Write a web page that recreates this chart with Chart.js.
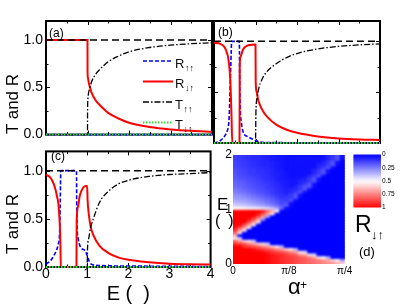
<!DOCTYPE html>
<html>
<head>
<meta charset="utf-8">
<script src="https://cdn.jsdelivr.net/npm/chart.js@4.4.1/dist/chart.umd.min.js"></script>
<style>
  html, body { margin: 0; padding: 0; background: #fff; }
  #wrap { position: relative; width: 415px; height: 305px; overflow: hidden; font-family: 'Liberation Sans', Arial, sans-serif; color: #000; }
  canvas { position: absolute; }
  .lbl { position: absolute; line-height: 1; white-space: nowrap; }
  .ylab { position: absolute; line-height: 1; white-space: nowrap; font-size: 17px; transform: translate(-50%, -50%) rotate(-90deg); }
</style>
</head>
<body>
<div id="wrap">
  <canvas id="ca" width="215" height="146" style="left:0;top:0"></canvas>
  <canvas id="cb" width="170" height="146" style="left:212px;top:0"></canvas>
  <canvas id="cc" width="215" height="165" style="left:0;top:140px"></canvas>
  <canvas id="cd" width="150" height="160" style="left:205px;top:145px"></canvas>
  <canvas id="cbar" width="70" height="66" style="left:345px;top:148px"></canvas>

  <div class="ylab" style="left:12px;top:104px">T and R</div>
  <div class="ylab" style="left:12px;top:224px">T and R</div>
  <div class="lbl" style="left:49px;top:26.8px;font-size:12px">(a)</div>
  <div class="lbl" style="left:218px;top:26.3px;font-size:12px">(b)</div>
  <div class="lbl" style="left:51px;top:149.8px;font-size:12px">(c)</div>
  <div class="lbl" style="left:359px;top:245px;font-size:13px">(d)</div>
  <div class="lbl" style="left:355px;top:213px;font-size:23px">R</div>
  <div class="lbl" style="left:371px;top:228px;font-size:13px">↓↑</div>
  <div class="lbl" style="left:217px;top:195.8px;font-size:17px">E</div>
  <div class="lbl" style="left:215px;top:213px;font-size:16px">(&ensp;)</div>
  <div class="lbl" style="left:288px;top:276.4px;font-size:22px">α</div>
  <div class="lbl" style="left:300px;top:278.5px;font-size:12px">+</div>
</div>

<script>
// ---- panel (a) ----
const aRedE = [0, 1, 1.001, 1.01, 1.03, 1.06, 1.1, 1.2, 1.3, 1.5, 1.75, 2, 2.5, 3, 3.5, 4];
const aRed  = [1, 1, 0.68, 0.6, 0.55, 0.5, 0.44, 0.36, 0.31, 0.23, 0.17, 0.125, 0.08, 0.055, 0.04, 0.03];
const aTE   = [0, 1, 1.001, 1.01, 1.03, 1.06, 1.1, 1.2, 1.3, 1.5, 1.75, 2, 2.5, 3, 3.5, 4];
const aT    = [0, 0, 0.2, 0.38, 0.45, 0.5, 0.56, 0.64, 0.69, 0.77, 0.83, 0.875, 0.92, 0.945, 0.96, 0.97];

// ---- panel (b) ----
const bRedE  = [0, 0.15, 0.25, 0.3, 0.345, 0.38, 0.4, 0.42, 0.44, 0.615, 0.62, 0.64, 0.7, 0.79, 0.9, 1, 1.005, 1.03, 1.06, 1.1, 1.2, 1.3, 1.5, 1.75, 2, 2.5, 3, 3.5, 4];
const bRed   = [0.985, 0.975, 0.945, 0.9, 0.83, 0.7, 0.55, 0.3, 0, 0, 0.75, 0.85, 0.92, 0.955, 0.965, 0.97, 0.6, 0.5, 0.43, 0.38, 0.3, 0.25, 0.18, 0.13, 0.1, 0.065, 0.045, 0.035, 0.03];
const bBlueE = [0, 0.14, 0.26, 0.32, 0.345, 0.365, 0.38, 0.4, 0.415, 0.425, 0.61, 0.62, 0.635, 0.66, 0.71, 0.8, 0.87, 1, 1.1, 1.3, 4];
const bBlue  = [0, 0.02, 0.07, 0.12, 0.16, 0.25, 0.42, 0.7, 0.9, 1, 1, 0.6, 0.32, 0.2, 0.1, 0.065, 0.05, 0.025, 0.01, 0.005, 0];
const bTE    = [0, 1, 1.01, 1.04, 1.08, 1.15, 1.25, 1.5, 1.75, 2, 2.5, 3, 3.5, 4];
const bT     = [0, 0, 0.3, 0.45, 0.54, 0.62, 0.69, 0.78, 0.84, 0.88, 0.925, 0.95, 0.965, 0.975];

// ---- panel (c) ----
const cRedE  = [0, 0.1, 0.16, 0.22, 0.27, 0.3, 0.33, 0.35, 0.36, 0.74, 0.745, 0.78, 0.82, 0.9, 0.97, 1, 1.01, 1.04, 1.08, 1.15, 1.3, 1.5, 1.75, 2, 2.5, 3, 3.5, 4];
const cRed   = [0.96, 0.93, 0.89, 0.82, 0.73, 0.66, 0.48, 0.25, 0, 0, 0.47, 0.63, 0.74, 0.82, 0.84, 0.84, 0.7, 0.55, 0.43, 0.33, 0.22, 0.15, 0.1, 0.075, 0.05, 0.035, 0.028, 0.025];
const cBlueE = [0, 0.1, 0.18, 0.25, 0.3, 0.33, 0.345, 0.36, 0.74, 0.75, 0.78, 0.85, 0.95, 1, 1.05, 1.1, 1.3, 2, 4];
const cBlue  = [0.03, 0.06, 0.11, 0.17, 0.24, 0.35, 0.65, 1, 1, 0.5, 0.3, 0.2, 0.17, 0.12, 0.06, 0.03, 0.015, 0.01, 0.005];
const cTE    = [0, 1, 1.01, 1.04, 1.08, 1.15, 1.3, 1.5, 1.75, 2, 2.5, 3, 3.5, 4];
const cT     = [0, 0, 0.2, 0.3, 0.4, 0.5, 0.67, 0.78, 0.86, 0.9, 0.94, 0.96, 0.97, 0.98];

// flat lines (zero curves and the R+T = 1 guide)
const flatE    = [0, 4];
const zeroVals = [0, 0];
const oneVals  = [1, 1];

// axes of (a)-(c)
const yTickVals  = [0, 0.5, 1];
const xTickVals  = [0, 1, 2, 3, 4];
const xMinorVals = [0.5, 1, 1.5, 2, 2.5, 3, 3.5];
const yMinorVals = [0.25, 0.5, 0.75, 1];

// ---- panel (d): R(alpha, E) map, 24 alpha columns (0..pi/4), rows listed top (E=2) to bottom (E=0) ----
const eEdges = [0, 0.05, 0.1, 0.15, 0.2, 0.25, 0.3, 0.35, 0.4, 0.45, 0.5, 0.55, 0.6, 0.65, 0.7, 0.75, 0.8, 0.85, 0.9, 0.95, 1,
                1.05, 1.1, 1.15, 1.2, 1.25, 1.3, 1.35, 1.4, 1.45, 1.5, 1.55, 1.6, 1.65, 1.7, 1.75, 1.8, 1.85, 1.9, 1.95, 2];
const rGrid = [
  [.12,.11,.10,.09,.08,.08,.07,.06,.05,.04, .04,.03,.03,.03,.03,.03,.03,.03,.03,.03, .07,.11,.16,.03],
  [.12,.11,.10,.09,.08,.08,.07,.06,.05,.04, .04,.03,.03,.03,.03,.03,.03,.03,.03,.03, .07,.11,.16,.03],
  [.13,.12,.11,.10,.09,.08,.07,.07,.06,.05, .04,.03,.03,.03,.03,.03,.03,.03,.03,.07, .11,.16,.03,0],
  [.13,.12,.11,.10,.09,.08,.07,.07,.06,.05, .04,.03,.03,.03,.03,.03,.03,.03,.07,.07, .11,.16,.03,0],
  [.14,.13,.12,.11,.10,.09,.08,.07,.06,.05, .04,.03,.03,.03,.03,.03,.03,.03,.07,.11, .16,.03,0,0],
  [.15,.14,.13,.11,.11,.09,.09,.08,.07,.05, .05,.03,.03,.03,.03,.03,.03,.07,.11,.16, .03,0,0,0],
  [.16,.14,.13,.12,.11,.10,.09,.08,.07,.06, .05,.04,.03,.03,.03,.03,.03,.07,.11,.16, .03,0,0,0],
  [.17,.15,.14,.13,.12,.11,.10,.09,.07,.06, .05,.04,.03,.03,.03,.03,.07,.11,.16,.03, 0,0,0,0],
  [.17,.16,.15,.14,.13,.11,.10,.09,.08,.06, .05,.04,.04,.04,.04,.07,.11,.16,.03,0, 0,0,0,0],
  [.19,.18,.17,.15,.14,.13,.11,.10,.09,.07, .06,.05,.04,.04,.07,.07,.11,.16,.03,0, 0,0,0,0],
  [.2,.19,.18,.16,.15,.13,.12,.11,.09,.08, .06,.05,.04,.04,.07,.11,.16,.03,0,0, 0,0,0,0],
  [.21,.2,.18,.17,.15,.14,.13,.11,.1,.08, .07,.05,.04,.07,.11,.16,.16,.03,0,0, 0,0,0,0],
  [.23,.22,.2,.18,.17,.15,.14,.12,.11,.09, .07,.06,.07,.07,.11,.16,.03,0,0,0, 0,0,0,0],
  [.25,.23,.22,.2,.18,.16,.15,.13,.11,.09, .08,.06,.07,.11,.16,.03,0,0,0,0, 0,0,0,0],
  [.28,.27,.25,.23,.21,.19,.17,.15,.13,.11, .09,.08,.11,.16,.03,0,0,0,0,0, 0,0,0,0],
  [.3,.29,.28,.26,.24,.22,.2,.18,.16,.13, .1,.11,.11,.16,.03,0,0,0,0,0, 0,0,0,0],
  [.33,.32,.31,.29,.27,.25,.23,.21,.18,.15, .13,.11,.16,.03,0,0,0,0,0,0, 0,0,0,0],
  [.37,.36,.35,.33,.31,.29,.27,.24,.21,.18, .13,.16,.03,0,0,0,0,0,0,0, 0,0,0,0],
  [.42,.41,.4,.38,.36,.34,.32,.29,.26,.22, .18,.16,.03,0,0,0,0,0,0,0, 0,0,0,0],
  [.5,.5,.49,.48,.47,.46,.44,.42,.38,.32, .2,.03,0,0,0,0,0,0,0,0, 0,0,0,0],
  [1,1,1,1,1,1,.95,.8,.68,.52, 0,0,0,0,0,0,0,0,0,0, 0,0,0,0],
  [1,1,1,1,1,.97,.85,.7,.55,0, 0,0,0,0,0,0,0,0,0,0, 0,0,0,0],
  [1,1,1,1,.97,.85,.7,.3,0,0, 0,0,0,0,0,0,0,0,0,0, 0,0,0,0],
  [1,1,1,.97,.85,.7,.3,0,0,0, 0,0,0,0,0,0,0,0,0,0, 0,0,0,0],
  [1,1,1,.85,.7,.55,0,0,0,0, 0,0,0,0,0,0,0,0,0,0, 0,0,0,0],
  [1,1,.85,.7,.55,0,0,0,0,0, 0,0,0,0,0,0,0,0,0,0, 0,0,0,0],
  [.97,.85,.7,.55,0,0,0,0,0,0, 0,0,0,0,0,0,0,0,0,0, 0,0,0,0],
  [.9,.7,.55,0,0,0,0,0,0,0, 0,0,0,0,0,0,0,0,0,0, 0,0,0,0],
  [.8,.55,0,0,0,0,0,0,0,0, 0,0,0,0,0,0,0,0,0,0, 0,0,0,0],
  [.65,0,0,0,0,0,0,0,0,0, 0,0,0,0,0,0,0,0,0,0, 0,0,0,0],
  [.55,.4,0,0,0,0,0,0,0,0, 0,0,0,0,0,0,0,0,0,0, 0,0,0,0],
  [.8,.7,.6,.55,.4,0,0,0,0,0, 0,0,0,0,0,0,0,0,0,0, 0,0,0,0],
  [.9,.88,.85,.75,.7,.6,.55,.4,0,0, 0,0,0,0,0,0,0,0,0,0, 0,0,0,0],
  [1,1,.9,.88,.85,.82,.75,.7,.6,.55, .35,0,0,0,0,0,0,0,0,0, 0,0,0,0],
  [1,1,1,1,.97,.92,.88,.85,.82,.75, .7,.6,.55,.35,0,0,0,0,0,0, 0,0,0,0],
  [1,1,1,1,1,1,.98,.95,.9,.87, .85,.82,.75,.7,.55,.45,0,0,0,0, 0,0,0,0],
  [1,1,1,1,1,1,1,.98,.96,.94, .92,.88,.85,.82,.72,.68,.55,.45,0,0, 0,0,0,0],
  [1,1,1,1,1,1,1,.98,.96,.94, .92,.9,.88,.86,.84,.82,.78,.7,.55,.5, .35,0,0,0],
  [1,1,1,1,1,1,1,.98,.96,.94, .92,.9,.88,.86,.84,.82,.8,.78,.76,.72, .68,.58,.5,.3],
  [1,1,1,1,1,1,1,.98,.96,.94, .92,.9,.88,.86,.84,.82,.8,.78,.76,.74, .72,.7,.66,.6]
];
const eTicks      = [0, 1, 2];
const alphaTicks  = [0, Math.PI / 8, Math.PI / 4];
const alphaLabels = ['0', 'π/8', 'π/4'];
const cbLevels = [0, 0.05, 0.1, 0.15, 0.2, 0.25, 0.3, 0.35, 0.4, 0.45, 0.5, 0.55, 0.6, 0.65, 0.7, 0.75, 0.8, 0.85, 0.9, 0.95, 1];
const cbTicks  = [0, 0.25, 0.5, 0.75, 1];
const cbLabels = ['0', '0.25', '0.5', '0.75', '1'];

Chart.defaults.font.family = "'Liberation Sans', Arial, sans-serif";
Chart.defaults.color = '#000';

// blue (0) -> white (0.5) -> red (1)
function cmap(r) {
  if (r <= 0.5) {
    const c = Math.round(255 * r / 0.5);
    return `rgb(${c},${c},255)`;
  }
  const c = Math.round(255 * (1 - (r - 0.5) / 0.5));
  return `rgb(255,${c},${c})`;
}

const pts = (xs, ys) => xs.map((x, i) => ({ x: x, y: ys[i] }));

const styles = {
  one: { borderColor: '#000', borderWidth: 1.5, borderDash: [7, 4] },
  tDU: { borderColor: '#33dd33', borderWidth: 2, borderDash: [1.5, 1.5] },
  tUU: { borderColor: '#000', borderWidth: 1.3, borderDash: [6, 2, 1.5, 2] },
  rDU: { borderColor: '#ff0000', borderWidth: 2 },
  rUU: { borderColor: '#0000ff', borderWidth: 1.6, borderDash: [4, 2] }
};

function line(xs, ys, st) {
  return Object.assign({
    data: pts(xs, ys), pointRadius: 0, fill: false, clip: 3,
    cubicInterpolationMode: 'monotone'
  }, st);
}

// box with inward ticks on all four sides
const framePlugin = {
  id: 'frame',
  beforeDatasetsDraw(chart) {
    const { ctx, chartArea: a, scales: { x, y } } = chart;
    ctx.save();
    ctx.strokeStyle = '#000';
    ctx.lineWidth = 1;
    ctx.beginPath();
    xMinorVals.forEach(v => {
      const px = Math.round(x.getPixelForValue(v)) + 0.5;
      const len = Number.isInteger(v) ? 4 : 2.5;
      ctx.moveTo(px, a.bottom); ctx.lineTo(px, a.bottom - len);
      ctx.moveTo(px, a.top); ctx.lineTo(px, a.top + len);
    });
    yMinorVals.forEach(v => {
      const py = Math.round(y.getPixelForValue(v)) + 0.5;
      const len = (v * 2) % 1 === 0 ? 4 : 2.5;
      ctx.moveTo(a.left, py); ctx.lineTo(a.left + len, py);
      ctx.moveTo(a.right, py); ctx.lineTo(a.right - len, py);
    });
    ctx.stroke();
    ctx.lineWidth = 2;
    ctx.strokeRect(a.left, a.top, a.right - a.left, a.bottom - a.top);
    ctx.restore();
  }
};

// legend drawn inside panel (a)
const legendPlugin = {
  id: 'inLegend',
  afterDatasetsDraw(chart, args, opts) {
    const { ctx, chartArea: a } = chart;
    opts.items.forEach((it, i) => {
      const ds = chart.data.datasets[it.ds];
      const y = a.top + opts.top + i * opts.gap;
      ctx.save();
      ctx.strokeStyle = ds.borderColor;
      ctx.lineWidth = ds.borderWidth;
      ctx.setLineDash(ds.borderDash || []);
      ctx.beginPath();
      ctx.moveTo(a.left + opts.x0, y);
      ctx.lineTo(a.left + opts.x1, y);
      ctx.stroke();
      ctx.setLineDash([]);
      ctx.fillStyle = '#111';
      ctx.font = "13px 'Liberation Sans', Arial, sans-serif";
      const tx = a.left + opts.x1 + 2;
      ctx.fillText(it.main, tx, y + 6.5);
      const w = ctx.measureText(it.main).width;
      ctx.font = "9px 'Liberation Sans', Arial, sans-serif";
      ctx.fillText(it.sub, tx + w + 0.5, y + 9.5);
      ctx.restore();
    });
  }
};

// soften the cell edges of the map: blurred copy over the sharp cells
const smoothPlugin = {
  id: 'smooth',
  afterDatasetsDraw(chart) {
    const { ctx, canvas, chartArea: a } = chart;
    ctx.save();
    ctx.beginPath();
    ctx.rect(a.left, a.top, a.right - a.left, a.bottom - a.top);
    ctx.clip();
    ctx.filter = 'blur(1.3px)';
    ctx.drawImage(canvas, 0, 0);
    ctx.restore();
  }
};

const base = {
  responsive: false, animation: false, events: [],
  plugins: { legend: { display: false }, tooltip: { enabled: false } }
};

function yAxis(show) {
  const ax = {
    type: 'linear', min: 0, max: 1.2, display: show,
    grid: { display: false, drawTicks: false }, border: { display: false },
    ticks: { font: { size: 14 }, color: '#000', padding: 3, callback: v => v.toFixed(1) },
    afterBuildTicks: s => { s.ticks = yTickVals.map(v => ({ value: v })); }
  };
  if (show) ax.afterFit = s => { s.width = 46; };
  return ax;
}

function panelSets(redE, red, blueE, blue, tE, t) {
  return [
    line(flatE, oneVals, styles.one),
    line(flatE, zeroVals, styles.tDU),
    line(tE, t, styles.tUU),
    line(redE, red, styles.rDU),
    line(blueE, blue, styles.rUU)
  ];
}

// (a)
new Chart(document.getElementById('ca'), {
  type: 'line',
  data: { datasets: panelSets(aRedE, aRed, flatE, zeroVals, aTE, aT) },
  options: Object.assign({}, base, {
    layout: { padding: { left: 0, top: 21, right: 3, bottom: 3 } },
    scales: { x: { type: 'linear', min: 0, max: 4, display: false }, y: yAxis(true) },
    plugins: Object.assign({}, base.plugins, {
      inLegend: {
        x0: 97, x1: 127, top: 40, gap: 20.5,
        items: [
          { ds: 4, main: 'R', sub: '↑↑' },
          { ds: 3, main: 'R', sub: '↓↑' },
          { ds: 2, main: 'T', sub: '↑↑' },
          { ds: 1, main: 'T', sub: '↓↑' }
        ]
      }
    })
  }),
  plugins: [framePlugin, legendPlugin]
});

// (b)
new Chart(document.getElementById('cb'), {
  type: 'line',
  data: { datasets: panelSets(bRedE, bRed, bBlueE, bBlue, bTE, bT) },
  options: Object.assign({}, base, {
    layout: { padding: { left: 2, top: 21, right: 2, bottom: 3 } },
    scales: { x: { type: 'linear', min: 0, max: 4, display: false }, y: yAxis(false) }
  }),
  plugins: [framePlugin]
});

// (c)
new Chart(document.getElementById('cc'), {
  type: 'line',
  data: { datasets: panelSets(cRedE, cRed, cBlueE, cBlue, cTE, cT) },
  options: Object.assign({}, base, {
    layout: { padding: { left: 0, top: 6, right: 3, bottom: 0 } },
    scales: {
      x: {
        type: 'linear', min: 0, max: 4,
        grid: { display: false, drawTicks: false }, border: { display: false },
        ticks: { font: { size: 14, lineHeight: 1 }, color: '#000', padding: 0.5 },
        afterBuildTicks: s => { s.ticks = xTickVals.map(v => ({ value: v })); },
        title: { display: true, text: 'E (  )', font: { size: 20, lineHeight: 1 }, color: '#000', padding: { top: 0, bottom: 1 } },
        afterFit: s => { s.height = 38; }
      },
      y: yAxis(true)
    }
  }),
  plugins: [framePlugin]
});

// (d) heatmap, one floating-bar dataset per E row
new Chart(document.getElementById('cd'), {
  type: 'bar',
  data: {
    labels: rGrid[0].map((_, j) => j),
    datasets: rGrid.map((row, k) => ({
      xAxisID: 'x',
      data: row.map(() => [eEdges[39 - k], eEdges[40 - k]]),
      backgroundColor: row.map(cmap),
      grouped: false, barPercentage: 1, categoryPercentage: 1, borderWidth: 0
    }))
  },
  options: Object.assign({}, base, {
    layout: { padding: { left: 0, top: 10, right: 2, bottom: 0 } },
    scales: {
      x: { type: 'category', display: false },
      x2: {
        type: 'linear', position: 'bottom', min: 0, max: Math.PI / 4, offset: false,
        grid: { display: false, drawTicks: false }, border: { display: false },
        ticks: { font: { size: 10, lineHeight: 1 }, color: '#000', padding: 2.7, callback: (v, i) => alphaLabels[i] },
        afterBuildTicks: s => { s.ticks = alphaTicks.map(v => ({ value: v })); },
        afterFit: s => { s.height = 41; }
      },
      y: {
        type: 'linear', min: 0, max: 2,
        grid: { display: false, drawTicks: false }, border: { display: false },
        ticks: { font: { size: 12 }, color: '#000', padding: 1 },
        afterBuildTicks: s => { s.ticks = eTicks.map(v => ({ value: v })); },
        afterFit: s => { s.width = 28; }
      }
    }
  }),
  plugins: [smoothPlugin]
});

// colour bar
new Chart(document.getElementById('cbar'), {
  type: 'bar',
  data: {
    labels: [''],
    datasets: cbLevels.slice(1).map((hi, i) => ({
      data: [[cbLevels[i], hi]],
      backgroundColor: cmap((cbLevels[i] + hi) / 2),
      grouped: false, barPercentage: 1, categoryPercentage: 1, borderWidth: 0
    }))
  },
  options: Object.assign({}, base, {
    layout: { padding: { left: 8.5, top: 6.5, right: 0, bottom: 6.5 } },
    scales: {
      x: { display: false },
      y: {
        position: 'right', reverse: true, min: 0, max: 1,
        grid: { display: false, drawTicks: false }, border: { display: false },
        ticks: { font: { size: 6.5 }, color: '#000', padding: 1, callback: (v, i) => cbLabels[i] },
        afterBuildTicks: s => { s.ticks = cbTicks.map(v => ({ value: v })); },
        afterFit: s => { s.width = 34; }
      }
    }
  }),
  plugins: [smoothPlugin]
});
</script>
</body>
</html>
